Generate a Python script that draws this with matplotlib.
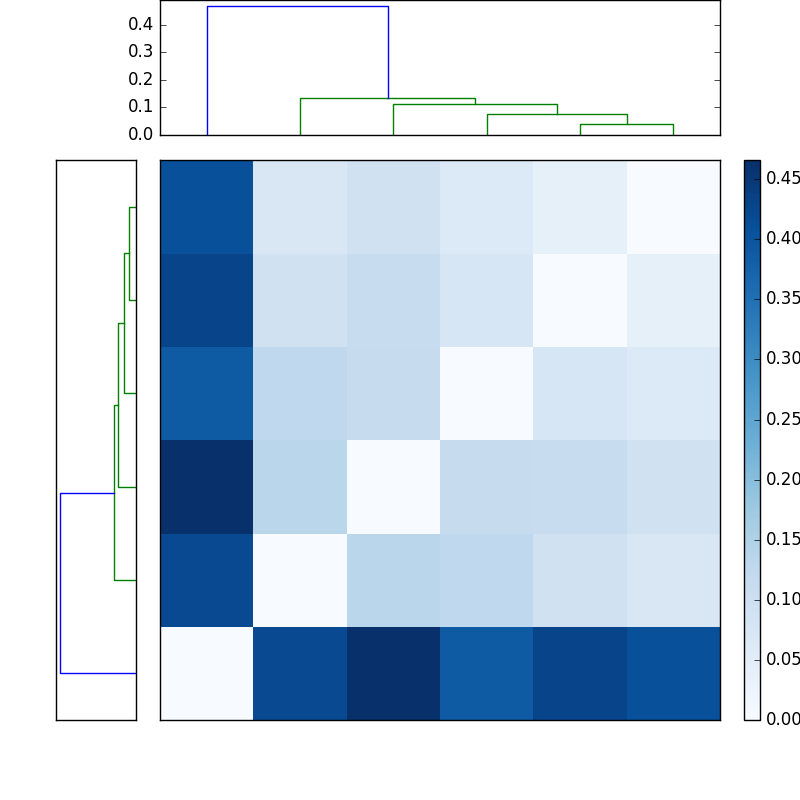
import numpy as np
import matplotlib
matplotlib.use("Agg")
import matplotlib.pyplot as plt
from matplotlib.ticker import MultipleLocator

# pairwise distances between 6 samples (symmetric, zero diagonal)
row0 = [0.000, 0.420, 0.466, 0.388, 0.428, 0.408]
row1 = [0.420, 0.000, 0.133, 0.124, 0.092, 0.070]
row2 = [0.466, 0.133, 0.000, 0.113, 0.112, 0.092]
row3 = [0.388, 0.124, 0.113, 0.000, 0.075, 0.063]
row4 = [0.428, 0.092, 0.112, 0.075, 0.000, 0.040]
row5 = [0.408, 0.070, 0.092, 0.063, 0.040, 0.000]
D = np.array([row0, row1, row2, row3, row4, row5])


def complete_linkage(d):
    n = len(d)
    clusters = {i: [i] for i in range(n)}
    Z = []
    nxt = n
    while len(clusters) > 1:
        keys = sorted(clusters)
        best = None
        for ia, a in enumerate(keys):
            for b in keys[ia + 1:]:
                h = max(d[i][j] for i in clusters[a] for j in clusters[b])
                if best is None or h < best[2]:
                    best = (a, b, h)
        a, b, h = best
        Z.append(best)
        clusters[nxt] = clusters.pop(a) + clusters.pop(b)
        nxt += 1
    return Z


def dendro_links(Z, n):
    # returns list of (xs, hs) in scipy's 5,15,25.. leaf units
    links = []
    pos = [0]

    def walk(node):
        if node < n:
            x = 5 + 10 * pos[0]
            pos[0] += 1
            return x, 0.0
        a, b, h = Z[node - n]
        xa, ha = walk(a)
        xb, hb = walk(b)
        links.append(([xa, xa, xb, xb], [ha, h, h, hb]))
        return (xa + xb) / 2.0, h

    walk(n + len(Z) - 1)
    return links


Z = complete_linkage(D)
links = dendro_links(Z, len(D))
hmax = max(z[2] for z in Z)
threshold = 0.7 * hmax

plt.style.use('classic')
fig = plt.figure(figsize=(8, 8), dpi=100, facecolor='white')

# top dendrogram
ax_top = fig.add_axes([0.2, 0.83125, 0.7, 0.16875])
for xs, hs in links:
    c = 'g' if hs[1] < threshold else 'b'
    ax_top.plot(xs, hs, color=c, lw=1.0)
ax_top.set_xlim(0, 10 * len(D))
ax_top.set_ylim(0, 1.05 * hmax)
ax_top.set_xticks([])
ax_top.yaxis.set_major_locator(MultipleLocator(0.1))

# left dendrogram
ax_left = fig.add_axes([0.07, 0.1, 0.1, 0.7])
for xs, hs in links:
    c = 'g' if hs[1] < threshold else 'b'
    ax_left.plot(hs, xs, color=c, lw=1.0)
ax_left.set_ylim(0, 10 * len(D))
ax_left.set_xlim(1.05 * hmax, 0)
ax_left.set_xticks([])
ax_left.set_yticks([])

# heatmap
ax_map = fig.add_axes([0.2, 0.1, 0.7, 0.7])
im = ax_map.imshow(D, origin='lower', cmap='Blues', aspect='auto',
                   interpolation='nearest')
ax_map.set_xticks([])
ax_map.set_yticks([])

ax_cb = fig.add_axes([0.93, 0.1, 0.02, 0.7])
cb = fig.colorbar(im, cax=ax_cb, format='%.2f')
cb.locator = MultipleLocator(0.05)
cb.update_ticks()

fig.savefig('out.png', dpi=100, facecolor='white')
